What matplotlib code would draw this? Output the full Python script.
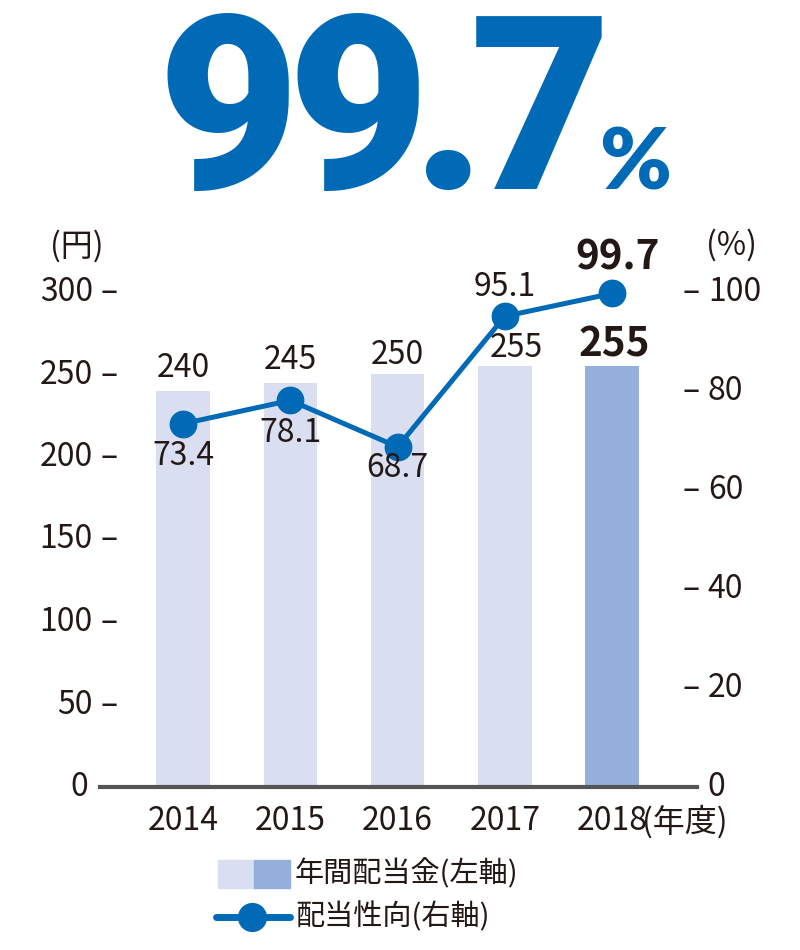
import matplotlib.pyplot as plt
from matplotlib.transforms import blended_transform_factory

plt.rcParams['font.family'] = ['Noto Sans CJK JP', 'DejaVu Sans']

years = ['2014', '2015', '2016', '2017', '2018']
dividend = [240, 245, 250, 255, 255]          # 年間配当金 (円)
payout = [73.4, 78.1, 68.7, 95.1, 99.7]       # 配当性向 (%)
left_ticks = [0, 50, 100, 150, 200, 250, 300]
right_ticks = [0, 20, 40, 60, 80, 100]

TXT = '#231815'
BLUE = '#006AB6'
BAR_LIGHT = '#D9DFF0'
BAR_DARK = '#94AFDB'
FS = 23

fig = plt.figure(figsize=(8, 9.5), dpi=100)
ax = fig.add_axes([0.125, 1 - 787 / 950, 0.746, (787 - 292) / 950])
ax2 = ax.twinx()

x = list(range(len(years)))
colors = [BAR_LIGHT] * 4 + [BAR_DARK]
ax.bar(x, dividend, width=0.5, color=colors, zorder=1)
ax.set_xlim(-0.776, 4.79)
ax.set_ylim(0, 300)
ax2.set_ylim(0, 100)

ax2.plot(x, payout, color=BLUE, lw=3.6, marker='o', ms=19, zorder=3, clip_on=False)

for a in (ax, ax2):
    for s in a.spines.values():
        s.set_visible(False)
    a.set_yticks([])
ax.spines['bottom'].set_visible(True)
ax.spines['bottom'].set_color('#555555')
ax.spines['bottom'].set_linewidth(3)
ax.spines['bottom'].set_zorder(5)

# y tick labels drawn by hand: "300 –" on the left, "– 100" on the right
px = lambda p: (p - 100) / 596
lt = blended_transform_factory(ax.transAxes, ax.transData)
for t in left_ticks:
    if t:
        ax.text(px(93), t, str(t), transform=lt, ha='right', va='center', fontsize=FS, color=TXT)
        ax.text(px(109), t, '–', transform=lt, ha='center', va='center', fontsize=FS, color=TXT)
    else:
        ax.text(px(88), t, '0', transform=lt, ha='right', va='center', fontsize=FS, color=TXT)
rt = blended_transform_factory(ax2.transAxes, ax2.transData)
for t in right_ticks:
    if t:
        ax2.text(px(690), t, '–', transform=rt, ha='center', va='center', fontsize=FS, color=TXT)
    ax2.text(px(707), t, str(t), transform=rt, ha='left', va='center', fontsize=FS, color=TXT)

ax.set_xticks(x)
ax.set_xticklabels(years)
ax.tick_params(axis='x', length=0, pad=13, labelsize=FS, labelcolor=TXT)
ax.text(px(641), -0.071, '(年度)', transform=ax.transAxes, ha='left', va='center',
        fontsize=FS, color=TXT)

ax.text(px(77), 328, '(円)', transform=lt, ha='center', va='center', fontsize=FS, color=TXT)
ax2.text(px(731), 109.5, '(%)', transform=rt, ha='center', va='center', fontsize=FS, color=TXT)

# bar labels
bar_off = [(0, 23), (0, 23), (0, 20), (12, 18), (2, 21)]
for i, v in enumerate(dividend):
    last = i == len(years) - 1
    ax.annotate(str(v), (i, v), xytext=bar_off[i], textcoords='offset pixels',
                ha='center', va='center', fontsize=29 if last else FS,
                fontweight='bold' if last else 'normal', color=TXT, zorder=4)

# line labels
line_off = [(0, -32), (0, -33), (0, -21), (0, 29), (5, 35)]
for i, v in enumerate(payout):
    last = i == len(years) - 1
    ax2.annotate(f'{v}', (i, v), xytext=line_off[i], textcoords='offset pixels',
                 ha='center', va='center', fontsize=29 if last else FS,
                 fontweight='bold' if last else 'normal', color=TXT, zorder=4)

# headline "99.7%", one glyph at a time to keep it tight
head_chars = ['9', '9', '.', '7']
head_x = [228, 358, 449, 541]
for ch, hx in zip(head_chars, head_x):
    fig.text(hx / 800, 1 - 189 / 950, ch, ha='center', va='baseline', fontsize=176,
             family='Roboto', fontweight='black', color=BLUE)
fig.text(635 / 800, 1 - 189 / 950, '%', ha='center', va='baseline', fontsize=62,
         family='Lato', fontweight='heavy', color=BLUE)

# legend
fig.patches.append(plt.Rectangle((218 / 800, 1 - 888 / 950), 36 / 800, 28 / 950,
                                 transform=fig.transFigure, color=BAR_LIGHT))
fig.patches.append(plt.Rectangle((254 / 800, 1 - 888 / 950), 36 / 800, 28 / 950,
                                 transform=fig.transFigure, color=BAR_DARK))
fig.text(295 / 800, 1 - 874 / 950, '年間配当金(左軸)', ha='left', va='center', fontsize=21, color=TXT)
fig.lines.append(plt.Line2D([216 / 800, 290 / 800], [1 - 917 / 950] * 2, transform=fig.transFigure,
                            color=BLUE, lw=5, solid_capstyle='round'))
fig.lines.append(plt.Line2D([252 / 800], [1 - 917 / 950], transform=fig.transFigure,
                            color=BLUE, marker='o', ms=20))
fig.text(295 / 800, 1 - 917 / 950, '配当性向(右軸)', ha='left', va='center', fontsize=21, color=TXT)

fig.savefig('out.png', dpi=100)
